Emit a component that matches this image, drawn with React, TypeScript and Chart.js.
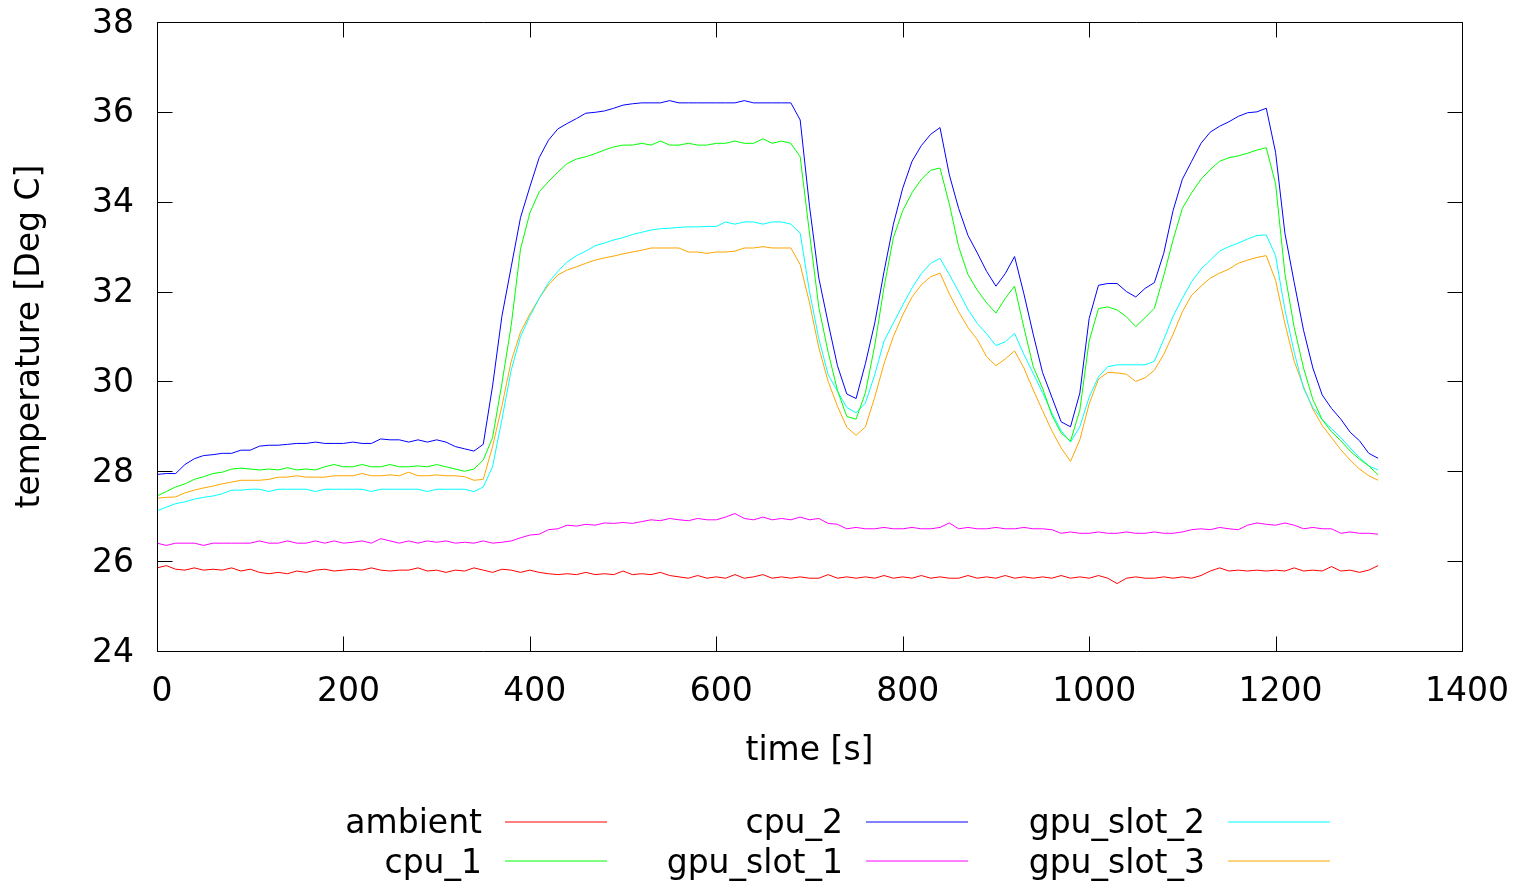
import React, { useEffect, useRef } from "react";
import { Chart, registerables } from "chart.js";

Chart.register(...registerables);

// time axis [s]
const times = [
  0, 10, 20, 30, 40, 50, 60, 70, 80, 90,
  100, 110, 120, 130, 140, 150, 160, 170, 180, 190,
  200, 210, 220, 230, 240, 250, 260, 270, 280, 290,
  300, 310, 320, 330, 340, 350, 360, 370, 380, 390,
  400, 410, 420, 430, 440, 450, 460, 470, 480, 490,
  500, 510, 520, 530, 540, 550, 560, 570, 580, 590,
  600, 610, 620, 630, 640, 650, 660, 670, 680, 690,
  700, 710, 720, 730, 740, 750, 760, 770, 780, 790,
  800, 810, 820, 830, 840, 850, 860, 870, 880, 890,
  900, 910, 920, 930, 940, 950, 960, 970, 980, 990,
  1000, 1010, 1020, 1030, 1040, 1050, 1060, 1070, 1080, 1090,
  1100, 1110, 1120, 1130, 1140, 1150, 1160, 1170, 1180, 1190,
  1200, 1210, 1220, 1230, 1240, 1250, 1260, 1270, 1280, 1290,
  1300, 1310,
];

const ambient = [
  25.85, 25.9, 25.82, 25.8, 25.85, 25.8, 25.82, 25.8, 25.85, 25.78,
  25.82, 25.75, 25.72, 25.75, 25.72, 25.78, 25.75, 25.8, 25.82, 25.78,
  25.8, 25.82, 25.8, 25.85, 25.8, 25.78, 25.8, 25.8, 25.85, 25.78,
  25.8, 25.75, 25.8, 25.78, 25.85, 25.8, 25.75, 25.82, 25.8, 25.75,
  25.8, 25.75, 25.72, 25.7, 25.72, 25.7, 25.75, 25.7, 25.72, 25.7,
  25.78, 25.7, 25.72, 25.7, 25.75, 25.68, 25.65, 25.62, 25.68, 25.62,
  25.65, 25.62, 25.7, 25.62, 25.65, 25.7, 25.62, 25.65, 25.62, 25.65,
  25.62, 25.62, 25.7, 25.62, 25.65, 25.62, 25.65, 25.62, 25.68, 25.62,
  25.65, 25.62, 25.68, 25.62, 25.65, 25.62, 25.62, 25.68, 25.62, 25.65,
  25.62, 25.68, 25.62, 25.65, 25.62, 25.65, 25.62, 25.68, 25.62, 25.65,
  25.62, 25.68, 25.62, 25.5, 25.62, 25.65, 25.62, 25.62, 25.65, 25.62,
  25.65, 25.62, 25.68, 25.78, 25.85, 25.78, 25.8, 25.78, 25.8, 25.78,
  25.8, 25.78, 25.85, 25.78, 25.8, 25.78, 25.88, 25.78, 25.8, 25.75,
  25.8, 25.9,
];

const cpu1 = [
  27.45, 27.55, 27.65, 27.72, 27.82, 27.88, 27.95, 27.98, 28.05, 28.07,
  28.05, 28.03, 28.05, 28.03, 28.08, 28.03, 28.05, 28.03, 28.1, 28.15,
  28.1, 28.1, 28.15, 28.1, 28.1, 28.15, 28.1, 28.1, 28.12, 28.1,
  28.15, 28.1, 28.05, 28.0, 28.05, 28.25, 28.75, 29.95, 31.25, 32.95,
  33.75, 34.22, 34.45, 34.66, 34.85, 34.95, 35.0, 35.07, 35.15, 35.22,
  35.26, 35.26, 35.3, 35.26, 35.35, 35.26, 35.26, 35.3, 35.26, 35.26,
  35.3, 35.3, 35.35, 35.3, 35.3, 35.4, 35.3, 35.35, 35.3, 35.0,
  33.3, 31.65, 30.65, 29.8, 29.22, 29.16, 29.75, 30.8, 32.1, 33.2,
  33.8, 34.2, 34.5, 34.7, 34.75, 33.95, 33.0, 32.38, 32.03, 31.75,
  31.52, 31.85, 32.12, 31.2, 30.33, 29.85, 29.25, 28.85, 28.67, 29.36,
  30.9, 31.62, 31.66, 31.59, 31.44, 31.22, 31.42, 31.63, 32.35, 33.15,
  33.85, 34.2, 34.5, 34.72, 34.9, 34.98, 35.02, 35.08, 35.15, 35.2,
  34.4, 32.4, 31.2, 30.3, 29.6, 29.15, 28.88, 28.68, 28.45, 28.27,
  28.12, 27.92,
];

const cpu2 = [
  27.93, 27.95, 27.95, 28.15, 28.28, 28.35, 28.37, 28.4, 28.4, 28.47,
  28.47, 28.56, 28.58, 28.58, 28.6, 28.62, 28.62, 28.65, 28.62, 28.62,
  28.62, 28.65, 28.62, 28.62, 28.72, 28.7, 28.7, 28.65, 28.7, 28.65,
  28.7, 28.65, 28.55, 28.5, 28.45, 28.6, 29.9, 31.45, 32.55, 33.65,
  34.33, 34.98, 35.37, 35.62, 35.74, 35.85, 35.97, 35.99, 36.02, 36.08,
  36.15, 36.18, 36.2, 36.2, 36.2, 36.25, 36.2, 36.2, 36.2, 36.2,
  36.2, 36.2, 36.2, 36.25, 36.2, 36.2, 36.2, 36.2, 36.2, 35.82,
  33.9, 32.3, 31.3, 30.35, 29.72, 29.62, 30.4, 31.3, 32.45, 33.5,
  34.3, 34.9, 35.25, 35.5, 35.65, 34.6, 33.85, 33.25, 32.86, 32.45,
  32.12, 32.4, 32.78, 31.95, 31.05, 30.2, 29.65, 29.1, 28.99, 29.74,
  31.4, 32.14, 32.18, 32.18, 32.0, 31.88, 32.07, 32.2, 32.85, 33.8,
  34.5, 34.9, 35.3, 35.55, 35.68, 35.78, 35.9, 35.98, 36.0, 36.08,
  35.1, 33.3, 32.2, 31.14, 30.3, 29.7, 29.4, 29.16, 28.87, 28.68,
  28.4, 28.29,
];

const gpuSlot1 = [
  26.4, 26.35, 26.4, 26.4, 26.4, 26.35, 26.4, 26.4, 26.4, 26.4,
  26.4, 26.45, 26.4, 26.4, 26.45, 26.4, 26.4, 26.45, 26.4, 26.45,
  26.4, 26.42, 26.45, 26.4, 26.5, 26.45, 26.4, 26.45, 26.4, 26.45,
  26.42, 26.45, 26.4, 26.42, 26.4, 26.45, 26.4, 26.42, 26.45, 26.52,
  26.58, 26.6, 26.7, 26.72, 26.8, 26.78, 26.82, 26.8, 26.85, 26.84,
  26.86, 26.84, 26.88, 26.92, 26.9, 26.95, 26.92, 26.9, 26.95, 26.92,
  26.92, 26.98, 27.06, 26.95, 26.92, 26.98, 26.92, 26.95, 26.92, 26.98,
  26.92, 26.95, 26.84, 26.82, 26.72, 26.75, 26.72, 26.72, 26.75, 26.72,
  26.72, 26.75, 26.72, 26.72, 26.75, 26.85, 26.72, 26.75, 26.72, 26.72,
  26.75, 26.72, 26.72, 26.75, 26.72, 26.72, 26.7, 26.62, 26.65, 26.62,
  26.62, 26.65, 26.62, 26.62, 26.65, 26.62, 26.62, 26.65, 26.62, 26.62,
  26.65, 26.7, 26.72, 26.7, 26.75, 26.72, 26.7, 26.8, 26.85, 26.82,
  26.8, 26.85, 26.8, 26.72, 26.75, 26.72, 26.72, 26.62, 26.65, 26.62,
  26.62, 26.6,
];

const gpuSlot2 = [
  27.12, 27.2, 27.28, 27.32, 27.38, 27.42, 27.45, 27.5, 27.58, 27.58,
  27.6, 27.6, 27.55, 27.6, 27.6, 27.6, 27.6, 27.55, 27.6, 27.6,
  27.6, 27.6, 27.6, 27.55, 27.6, 27.6, 27.6, 27.6, 27.6, 27.55,
  27.6, 27.6, 27.6, 27.6, 27.55, 27.65, 28.1, 29.15, 30.25, 31.0,
  31.45, 31.85, 32.2, 32.45, 32.66, 32.8, 32.9, 33.02, 33.08, 33.15,
  33.2, 33.27, 33.32, 33.37, 33.4, 33.41, 33.43, 33.44, 33.44, 33.45,
  33.45, 33.55, 33.5, 33.55, 33.55, 33.5, 33.55, 33.55, 33.5, 33.3,
  32.0, 30.95, 30.15, 29.78, 29.42, 29.3, 29.52, 30.15, 30.9, 31.3,
  31.7, 32.08, 32.4, 32.63, 32.74, 32.38, 32.0, 31.6, 31.29, 31.06,
  30.8, 30.88, 31.07, 30.6, 30.18, 29.75, 29.3, 28.9, 28.65, 28.99,
  29.65, 30.1, 30.33, 30.37, 30.37, 30.37, 30.37, 30.45, 30.93, 31.45,
  31.85, 32.22, 32.5, 32.7, 32.9, 33.0, 33.08, 33.17, 33.25, 33.26,
  32.8, 31.6, 30.65, 29.85, 29.42, 29.15, 28.95, 28.75, 28.52, 28.31,
  28.12, 28.03,
];

const gpuSlot3 = [
  27.4, 27.42, 27.43, 27.52, 27.58, 27.63, 27.67, 27.72, 27.76, 27.8,
  27.8, 27.8, 27.82, 27.87, 27.87, 27.9, 27.87, 27.87, 27.87, 27.9,
  27.9, 27.9, 27.95, 27.9, 27.9, 27.92, 27.9, 27.98, 27.9, 27.9,
  27.92, 27.9, 27.9, 27.88, 27.8, 27.82, 28.55, 29.45, 30.45, 31.1,
  31.5, 31.85, 32.15, 32.37, 32.48, 32.55, 32.63, 32.7, 32.75, 32.79,
  32.84, 32.88, 32.92, 32.97, 32.97, 32.97, 32.97, 32.88, 32.88, 32.85,
  32.88, 32.88, 32.9, 32.97, 32.97, 33.0, 32.97, 32.97, 32.97, 32.6,
  31.75, 30.75, 30.0, 29.45, 28.98, 28.8, 28.99, 29.65, 30.4, 31.0,
  31.48, 31.88, 32.15, 32.33, 32.41, 31.95, 31.55, 31.2, 30.93, 30.55,
  30.35, 30.5, 30.68, 30.3, 29.81, 29.35, 28.9, 28.52, 28.22, 28.7,
  29.5, 30.05, 30.2, 30.19, 30.16, 30.0, 30.08, 30.25, 30.6, 31.05,
  31.55, 31.92, 32.12, 32.3, 32.41, 32.5, 32.63, 32.7, 32.76, 32.8,
  32.25, 31.29, 30.45, 29.88, 29.38, 29.02, 28.75, 28.48, 28.25, 28.05,
  27.9, 27.8,
];

const seriesLabels = ["ambient", "cpu_1", "cpu_2", "gpu_slot_1", "gpu_slot_2", "gpu_slot_3"];
const seriesValues = [ambient, cpu1, cpu2, gpuSlot1, gpuSlot2, gpuSlot3];
const seriesColors = ["#ff0000", "#00ff00", "#0000ff", "#ff00ff", "#00ffff", "#ffa500"];

const xMin = 0;
const xMax = 1400;
const xStep = 200;
const yMin = 24;
const yMax = 38;
const yStep = 2;

const xTitle = "time [s]";
const yTitle = "temperature [Deg C]";

const FONT_FAMILY = "DejaVu Sans";
const FONT_SIZE = 33;
const TICK_LEN = 15;

const framePlugin = {
  id: "gnuframe",
  afterDatasetsDraw(chart: any) {
    const { ctx, chartArea } = chart;
    const xs = chart.scales.x;
    const ys = chart.scales.y;
    const L = Math.round(chartArea.left) + 0.5;
    const R = Math.round(chartArea.right) + 0.5;
    const T = Math.round(chartArea.top) + 0.5;
    const B = Math.round(chartArea.bottom) + 0.5;
    ctx.save();
    ctx.strokeStyle = "#000";
    ctx.lineWidth = 1;
    ctx.beginPath();
    ctx.rect(L, T, R - L, B - T);
    xs.ticks.forEach((t: any) => {
      const px = Math.round(xs.getPixelForValue(t.value)) + 0.5;
      ctx.moveTo(px, B);
      ctx.lineTo(px, B - TICK_LEN);
      ctx.moveTo(px, T);
      ctx.lineTo(px, T + TICK_LEN);
    });
    ys.ticks.forEach((t: any) => {
      const py = Math.round(ys.getPixelForValue(t.value)) + 0.5;
      ctx.moveTo(L, py);
      ctx.lineTo(L + TICK_LEN, py);
      ctx.moveTo(R, py);
      ctx.lineTo(R - TICK_LEN, py);
    });
    ctx.stroke();
    ctx.restore();
  },
};

const legendPlugin = {
  id: "gnulegend",
  afterDraw(chart: any) {
    const { ctx } = chart;
    const colRight = [482, 843, 1205];
    const rowText = [824, 864];
    const rowLine = [822, 861];
    ctx.save();
    ctx.font = `${FONT_SIZE}px "${FONT_FAMILY}"`;
    ctx.textAlign = "right";
    ctx.textBaseline = "middle";
    seriesLabels.forEach((label, i) => {
      const c = Math.floor(i / 2);
      const r = i % 2;
      const xr = colRight[c];
      ctx.fillStyle = "#000";
      ctx.fillText(label, xr, rowText[r]);
      ctx.strokeStyle = seriesColors[i];
      ctx.lineWidth = 1;
      ctx.beginPath();
      ctx.moveTo(xr + 23, rowLine[r]);
      ctx.lineTo(xr + 125, rowLine[r]);
      ctx.stroke();
    });
    ctx.restore();
  },
};

const zeroPadding = (s: any) => {
  s.paddingTop = 0;
  s.paddingBottom = 0;
  s.paddingLeft = 0;
  s.paddingRight = 0;
};

export default function App() {
  const canvasRef = useRef<HTMLCanvasElement | null>(null);

  useEffect(() => {
    if (!canvasRef.current) return;
    const font = { family: FONT_FAMILY, size: FONT_SIZE };
    const chart = new Chart(canvasRef.current, {
      type: "line",
      data: {
        datasets: seriesLabels.map((label, k) => ({
          label,
          data: times.map((t, i) => ({ x: t, y: seriesValues[k][i] })),
          borderColor: seriesColors[k],
          backgroundColor: seriesColors[k],
          borderWidth: 1,
          pointRadius: 0,
          tension: 0,
          fill: false,
        })),
      },
      options: {
        responsive: false,
        animation: false,
        events: [],
        layout: { padding: { left: 0, right: 55, top: 22, bottom: 106 } },
        plugins: {
          legend: { display: false },
          tooltip: { enabled: false },
        },
        scales: {
          x: {
            type: "linear",
            min: xMin,
            max: xMax,
            afterFit: (s: any) => {
              s.height = 124;
              zeroPadding(s);
            },
            ticks: {
              stepSize: xStep,
              font,
              color: "#000",
              padding: 22,
              labelOffset: 5,
              maxRotation: 0,
              autoSkip: false,
              callback: (v: any) => String(v),
            },
            grid: { display: false, drawTicks: false },
            border: { display: false },
            title: {
              display: true,
              text: xTitle,
              font,
              color: "#000",
              padding: { top: 0, bottom: 4 },
            },
          },
          y: {
            type: "linear",
            min: yMin,
            max: yMax,
            afterFit: (s: any) => {
              s.width = 157;
              zeroPadding(s);
            },
            ticks: {
              stepSize: yStep,
              font,
              color: "#000",
              padding: 23,
              labelOffset: 2,
              autoSkip: false,
              callback: (v: any) => String(v),
            },
            grid: { display: false, drawTicks: false },
            border: { display: false },
            title: {
              display: true,
              text: yTitle,
              font,
              color: "#000",
              padding: { top: 11, bottom: 0 },
            },
          },
        },
      },
      plugins: [framePlugin, legendPlugin],
    } as any);
    return () => chart.destroy();
  }, []);

  return (
    <div style={{ position: "absolute", left: 0, top: 0, width: 1517, height: 881, background: "#fff" }}>
      <canvas ref={canvasRef} width={1517} height={881} style={{ display: "block" }} />
    </div>
  );
}
